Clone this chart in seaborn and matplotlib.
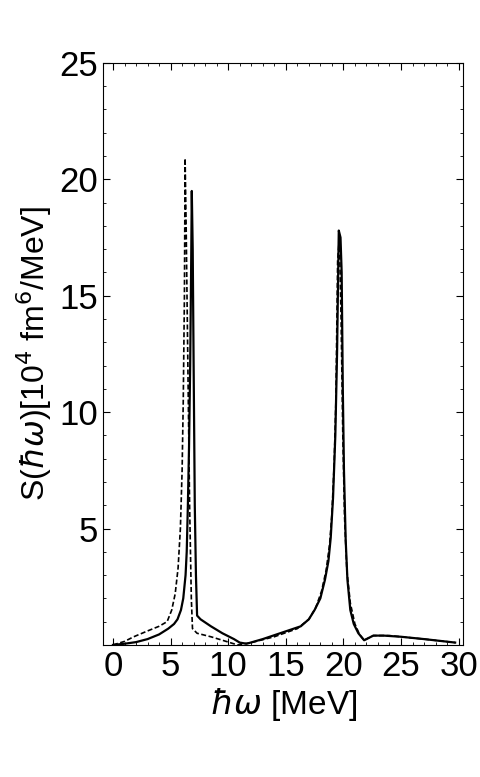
import numpy as np
import pandas as pd
import matplotlib.pyplot as plt
import seaborn as sns
from matplotlib.ticker import MultipleLocator

# solid curve
x_solid = [0, 1, 2, 3, 4, 4.8, 5.3, 5.6, 5.9, 6.1, 6.3, 6.4, 6.5, 6.6, 6.7, 6.78, 6.84, 6.92, 7.0, 7.05,
           7.1, 7.2, 7.3, 7.6, 8.5, 9.5, 10.5, 11.0, 11.6, 13, 14.5, 16.3, 17.0, 17.5, 18.0, 18.4,
           18.7, 18.9, 19.1, 19.3, 19.45, 19.6, 19.75, 19.85, 19.95, 20.05, 20.2, 20.35, 20.6, 20.9,
           21.3, 21.8, 22.2, 22.6, 23.5, 25, 27, 29.7]
y_solid = [0, 0.05, 0.12, 0.25, 0.45, 0.7, 0.9, 1.1, 1.5, 2.0, 3.0, 4.0, 6.0, 8.5, 12, 16, 19.5, 17, 12, 9,
           6, 3, 1.26, 1.1, 0.8, 0.5, 0.25, 0.1, 0.05, 0.25, 0.5, 0.8, 1.1, 1.5, 2.0, 2.8,
           3.6, 4.6, 6.3, 9, 12.5, 17.8, 17.5, 16, 11, 7.5, 4.5, 2.8, 1.5, 0.9,
           0.5, 0.2, 0.3, 0.4, 0.4, 0.35, 0.25, 0.1]
# dashed curve
x_dash = [0, 1, 1.8, 3, 4, 4.7, 5.1, 5.4, 5.65, 5.85, 6.0, 6.1, 6.2, 6.26, 6.35, 6.5, 6.65, 6.8, 6.9,
          7.3, 8.5, 9.5, 10.8, 12, 14, 16, 17, 17.6, 18.1, 18.5, 18.8, 19.0, 19.2, 19.35, 19.5, 19.65,
          19.8, 19.95, 20.1, 20.3, 20.6, 21.0, 21.4, 21.8, 22.2, 22.6, 24, 27, 29.7]
y_dash = [0, 0.15, 0.35, 0.6, 0.8, 1.0, 1.5, 2.2, 3.3, 5.0, 7.5, 10.5, 15, 20.9, 18, 12, 6, 2.0, 0.7,
          0.5, 0.35, 0.2, 0.0, 0.1, 0.35, 0.7, 1.1, 1.6, 2.3, 3.2, 4.3, 5.6, 7.8, 10.5, 16.5, 17.5,
          14, 9, 5.5, 3.2, 1.8, 0.9, 0.45, 0.2, 0.3, 0.4, 0.4, 0.25, 0.1]

plt.rcParams['font.family'] = ['Liberation Sans', 'DejaVu Sans']
plt.rcParams['mathtext.fontset'] = 'dejavusans'
fig = plt.figure(figsize=(4.8, 7.77), dpi=100)
ax = fig.add_axes([0.215, 0.17, 0.75, 0.749])
sns.lineplot(x=x_solid, y=y_solid, ax=ax, color='black', lw=1.6, sort=False)
sns.lineplot(x=x_dash, y=y_dash, ax=ax, color='black', lw=1.2, ls=(0, (3, 1.5)), sort=False)
ax.set_xlim(-0.85, 30.4)
ax.set_ylim(0, 25)
ax.set_xticks(range(0, 31, 5))
ax.set_yticks([5, 10, 15, 20, 25])
ax.xaxis.set_minor_locator(MultipleLocator(1))
ax.yaxis.set_minor_locator(MultipleLocator(1))
ax.tick_params(which='both', direction='in', top=True, right=True, labelsize=25)
ax.tick_params(which='major', length=5)
ax.tick_params(which='minor', length=2.5)
ax.set_xlabel(r'$\hbar\omega$ [MeV]', fontsize=24, labelpad=2)
ax.set_ylabel(r'S($\hbar\omega$)[10$^4$ fm$^6$/MeV]', fontsize=23, labelpad=4)
fig.savefig('out.png', dpi=100)
